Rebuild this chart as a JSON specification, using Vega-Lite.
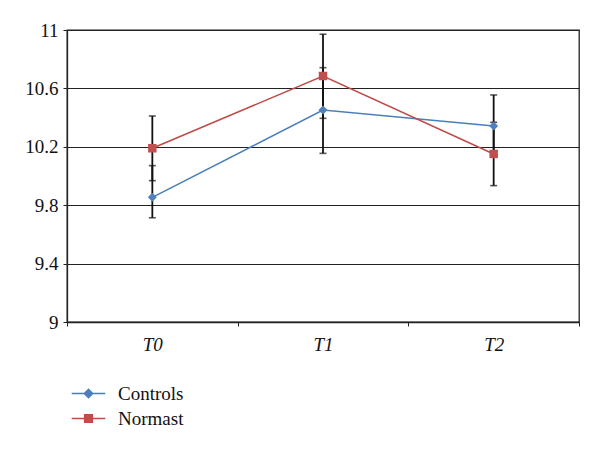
{
  "$schema": "https://vega.github.io/schema/vega-lite/v6.json",
  "width": 512,
  "height": 292,
  "autosize": {"type": "none"},
  "padding": {"left": 67, "top": 30, "right": 21, "bottom": 128},
  "background": "white",
  "config": {
    "view": {"stroke": "#222222", "strokeWidth": 1.3},
    "font": "'Liberation Serif', 'DejaVu Serif', serif"
  },
  "data": {
    "values": [
      {"group": "Controls", "time": "T0", "value": 9.854, "lo": 9.714, "hi": 10.071},
      {"group": "Controls", "time": "T1", "value": 10.452, "lo": 10.155, "hi": 10.742},
      {"group": "Controls", "time": "T2", "value": 10.342, "lo": 10.129, "hi": 10.555},
      {"group": "Normast", "time": "T0", "value": 10.19, "lo": 9.968, "hi": 10.411},
      {"group": "Normast", "time": "T1", "value": 10.685, "lo": 10.395, "hi": 10.971},
      {"group": "Normast", "time": "T2", "value": 10.151, "lo": 9.934, "hi": 10.368}
    ]
  },
  "encoding": {
    "x": {
      "field": "time",
      "type": "nominal",
      "scale": {"type": "band", "paddingInner": 0, "paddingOuter": 0},
      "axis": {
        "title": null,
        "labelAngle": 0,
        "tickBand": "extent",
        "labelFont": "'Liberation Serif', 'DejaVu Serif', serif",
        "labelFontStyle": "italic",
        "labelFontSize": 19,
        "labelColor": "#111111",
        "labelPadding": 9,
        "tickSize": 4,
        "tickColor": "#222222",
        "domainColor": "#222222",
        "domainWidth": 1.3
      }
    }
  },
  "layer": [
    {
      "mark": {"type": "rule", "color": "#111111", "strokeWidth": 1.8},
      "encoding": {
        "y": {"field": "lo", "type": "quantitative"},
        "y2": {"field": "hi"}
      }
    },
    {
      "mark": {"type": "tick", "color": "#111111", "size": 7, "thickness": 1.6},
      "encoding": {"y": {"field": "lo", "type": "quantitative"}}
    },
    {
      "mark": {"type": "tick", "color": "#111111", "size": 7, "thickness": 1.6},
      "encoding": {"y": {"field": "hi", "type": "quantitative"}}
    },
    {
      "mark": {"type": "line", "strokeWidth": 1.5},
      "encoding": {
        "y": {
          "field": "value",
          "type": "quantitative",
          "scale": {"domain": [9, 11], "nice": false, "zero": false},
          "axis": {
            "title": null,
            "values": [9, 9.4, 9.8, 10.2, 10.6, 11],
            "format": "~g",
            "grid": true,
            "gridColor": "#222222",
            "gridWidth": 1.2,
            "gridOpacity": 1,
            "labelFont": "'Liberation Serif', 'DejaVu Serif', serif",
            "labelFontSize": 19,
            "labelColor": "#111111",
            "labelPadding": 5,
            "tickSize": 4,
            "tickColor": "#222222",
            "domainColor": "#222222",
            "domainWidth": 1.3
          }
        },
        "color": {
          "field": "group",
          "type": "nominal",
          "scale": {"domain": ["Controls", "Normast"], "range": ["#4A7EBB", "#BE4B48"]},
          "legend": {
            "title": null,
            "orient": "none",
            "legendX": 12,
            "legendY": 354,
            "padding": 0,
            "symbolSize": 196,
            "symbolStrokeWidth": 1.5,
            "labelFont": "'Liberation Serif', 'DejaVu Serif', serif",
            "labelFontSize": 19,
            "labelColor": "#111111",
            "labelOffset": 20,
            "rowPadding": 5,
            "encode": {
              "symbols": {
                "update": {
                  "shape": {"signal": "datum.value === 'Controls' ? 'M-2.4,0H2.4M-0.6,0L0,-0.6L0.6,0L0,0.6Z' : 'M-2.4,0H2.4M-0.55,-0.55H0.55V0.55H-0.55Z'"},
                  "fill": {"signal": "datum.value === 'Controls' ? '#4F81BD' : '#C0504D'"},
                  "stroke": {"signal": "datum.value === 'Controls' ? '#4A7EBB' : '#BE4B48'"},
                  "fillOpacity": {"value": 1},
                  "opacity": {"value": 1}
                }
              }
            }
          }
        }
      }
    },
    {
      "mark": {"type": "point", "filled": true, "opacity": 1},
      "encoding": {
        "y": {"field": "value", "type": "quantitative"},
        "color": {
          "field": "group",
          "type": "nominal",
          "scale": {"domain": ["Controls", "Normast"], "range": ["#4F81BD", "#C0504D"]},
          "legend": null
        },
        "shape": {
          "field": "group",
          "type": "nominal",
          "scale": {"domain": ["Controls", "Normast"], "range": ["diamond", "square"]},
          "legend": null
        },
        "size": {
          "field": "group",
          "type": "nominal",
          "scale": {"domain": ["Controls", "Normast"], "range": [80, 72]},
          "legend": null
        }
      }
    }
  ],
  "resolve": {"scale": {"color": "independent"}}
}
